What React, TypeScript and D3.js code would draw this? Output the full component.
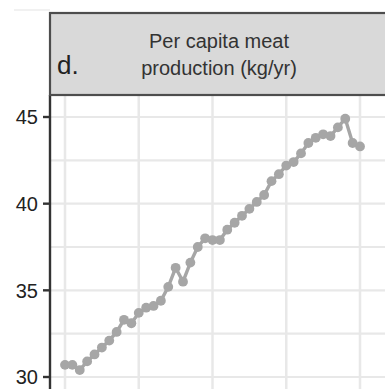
import React from "react";
import * as d3 from "d3";

const years: number[] = d3.range(1970, 2011);
const meatPerCapita: number[] = [
  30.7, 30.7, 30.4, 30.9, 31.3, 31.7, 32.1, 32.6, 33.3, 33.1,
  33.7, 34.0, 34.1, 34.4, 35.2, 36.3, 35.5, 36.6, 37.5, 38.0,
  37.9, 37.9, 38.5, 38.9, 39.3, 39.7, 40.1, 40.5, 41.3, 41.7,
  42.2, 42.4, 42.9, 43.5, 43.8, 44.0, 43.9, 44.4, 44.9, 43.5,
  43.3,
];
const yTicks: number[] = [30, 35, 40, 45];
const yMinor: number[] = [32.5, 37.5, 42.5];
const xGrid: number[] = [1970, 1980, 1990, 2000, 2010];
const panelLetter = "d.";
const titleLines: string[] = ["Per capita meat", "production (kg/yr)"];

const W = 385;
const H = 389;

export default function App() {
  const panelLeft = 50;
  const panelTop = 95;
  const stripTop = 13;
  const x = d3.scaleLinear().domain([1970, 2010]).range([65, 360]);
  const y = d3.scaleLinear().domain([30, 45]).range([377, 117]);
  const line = d3
    .line<number>()
    .x((_, i) => x(years[i]))
    .y((d) => y(d));
  const font = "'Liberation Sans', Arial, Helvetica, sans-serif";
  const gridColor = "#e8e8e8";
  const ptColor = "#a6a6a6";

  return (
    <svg
      width={W}
      height={H}
      style={{ position: "fixed", left: 0, top: 0, background: "#fff" }}
      fontFamily={font}
    >
      <rect x={0} y={0} width={W} height={H} fill="#fff" />
      {/* faint line from neighbouring panel */}
      <line x1={14} x2={50} y1={10} y2={10} stroke="#ececec" strokeWidth={1.5} />

      {/* panel grid */}
      {yMinor.map((v) => (
        <line key={"ym" + v} x1={panelLeft} x2={W} y1={y(v)} y2={y(v)} stroke={gridColor} strokeWidth={2.2} />
      ))}
      {yTicks.map((v) => (
        <line key={"yg" + v} x1={panelLeft} x2={W} y1={y(v)} y2={y(v)} stroke={gridColor} strokeWidth={2.2} />
      ))}
      {xGrid.map((v) => (
        <line key={"xg" + v} x1={x(v)} x2={x(v)} y1={panelTop} y2={H} stroke={gridColor} strokeWidth={2.5} />
      ))}

      {/* data */}
      <path d={line(meatPerCapita) || ""} fill="none" stroke={ptColor} strokeWidth={3.4} />
      {meatPerCapita.map((v, i) => (
        <circle key={i} cx={x(years[i])} cy={y(v)} r={4.9} fill={ptColor} />
      ))}

      {/* panel left border */}
      <line x1={panelLeft} x2={panelLeft} y1={panelTop} y2={H} stroke="#333" strokeWidth={2.4} />

      {/* y axis ticks */}
      {yTicks.map((v) => (
        <g key={"yt" + v}>
          <line x1={panelLeft - 7} x2={panelLeft} y1={y(v)} y2={y(v)} stroke="#333" strokeWidth={2.4} />
          <text
            x={panelLeft - 12}
            y={y(v)}
            dy="0.36em"
            textAnchor="end"
            fontSize={20}
            fill="#222"
          >
            {v}
          </text>
        </g>
      ))}

      {/* strip */}
      <rect
        x={panelLeft}
        y={stripTop}
        width={W - panelLeft + 5}
        height={panelTop - stripTop}
        fill="#d9d9d9"
        stroke="#4d4d4d"
        strokeWidth={2.2}
      />
      <text x={57} y={74} fontSize={26} fill="#222">
        {panelLetter}
      </text>
      {titleLines.map((t, i) => (
        <text
          key={t}
          x={219}
          y={48 + i * 27}
          textAnchor="middle"
          fontSize={20}
          fill="#333"
        >
          {t}
        </text>
      ))}
    </svg>
  );
}
